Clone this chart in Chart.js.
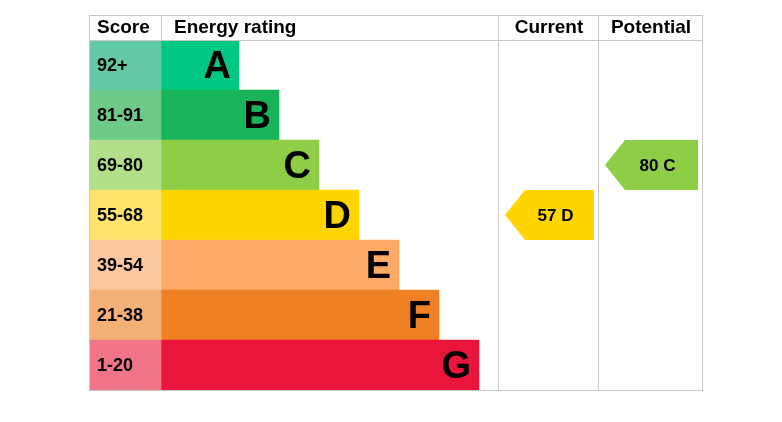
<!DOCTYPE html><html><head><script src="https://cdn.jsdelivr.net/npm/chart.js@4"></script>
<style>body{margin:0;background:#fff}</style></head><body>
<canvas id="c" width="782" height="422"></canvas>
<script>
const bands=['A','B','C','D','E','F','G'];
const scores=['92+','81-91','69-80','55-68','39-54','21-38','1-20'];
const bandEnds=[150,190,230,270,310,350,390];
const bandColors=['#00c781','#19b459','#8dce46','#ffd500','#fcaa65','#ef8023','#e9153b'];
const scoreColors=['#63c9a6','#6fca8a','#b3df8a','#ffe36a','#fdc8a0','#f5b077','#f07589'];
const headers=['Score','Energy rating','Current','Potential'];
const currentValue=57, currentBand='D';
const potentialValue=80, potentialBand='C';
const scoreEnd=72, currentCol=[410,510], potentialCol=[510,614];

const epc={id:'epc',afterDatasetsDraw(ch){
 const c=ch.ctx,a=ch.chartArea,x=ch.scales.x,y=ch.scales.y;
 const X=v=>x.getPixelForValue(v);
 const top=a.top-25;
 c.save();
 c.strokeStyle='#c8c8c8';c.lineWidth=1;
 const ln=(x1,y1,x2,y2)=>{c.beginPath();c.moveTo(x1,y1);c.lineTo(x2,y2);c.stroke();};
 ln(a.left,top+0.5,a.right,top+0.5);ln(a.left,a.top+0.5,a.right,a.top+0.5);ln(a.left,a.bottom+0.5,a.right,a.bottom+0.5);
 [0,scoreEnd].forEach(v=>ln(X(v)+0.5,top,X(v)+0.5,a.top));
 ln(a.left+0.5,a.top,a.left+0.5,a.bottom);
 [currentCol[0],potentialCol[0],potentialCol[1]].forEach(v=>ln(Math.round(X(v))-0.5,top,Math.round(X(v))-0.5,a.bottom));
 c.fillStyle='#000';c.textBaseline='middle';c.font='bold 19px "Liberation Sans",Arial';
 c.textAlign='left';c.fillText(headers[0],X(0)+8,top+13);c.fillText(headers[1],X(scoreEnd)+13,top+13);
 c.textAlign='center';c.fillText(headers[2],X((currentCol[0]+currentCol[1])/2),top+13);c.fillText(headers[3],X((potentialCol[0]+potentialCol[1])/2),top+13);
 bands.forEach((b,i)=>{const yc=y.getPixelForValue(i);
  c.font='bold 18px "Liberation Sans",Arial';c.textAlign='left';c.fillText(scores[i],X(0)+8,yc+1);
  c.font='bold 38px "Liberation Sans",Arial';c.textAlign='right';c.fillText(b,X(bandEnds[i])-8,yc+3);});
 const arrow=(val,band,col)=>{const i=bands.indexOf(band),yc=y.getPixelForValue(i),h=(y.getPixelForValue(1)-y.getPixelForValue(0));
  const tip=X(col[0]+6),body=X(col[0]+26),end=X(col[1]-5),t=yc-h/2,bm=yc+h/2;
  c.fillStyle=bandColors[i];c.beginPath();c.moveTo(tip,yc);c.lineTo(body,t);c.lineTo(end,t);c.lineTo(end,bm);c.lineTo(body,bm);c.closePath();c.fill();
  c.fillStyle='#000';c.font='bold 17px "Liberation Sans",Arial';c.textAlign='center';c.fillText(val+' '+band,(body+end)/2-4,yc+1);};
 arrow(currentValue,currentBand,currentCol);arrow(potentialValue,potentialBand,potentialCol);
 c.restore();}};

new Chart(document.getElementById('c'),{type:'bar',
 data:{labels:bands,datasets:[
  {data:bands.map(()=>[0,scoreEnd]),backgroundColor:scoreColors,grouped:false},
  {data:bandEnds.map(e=>[scoreEnd,e]),backgroundColor:bandColors,grouped:false}]},
 options:{indexAxis:'y',responsive:false,animation:false,barPercentage:1,categoryPercentage:1,
  layout:{padding:{left:89,right:79,top:40,bottom:32}},
  plugins:{legend:{display:false},tooltip:{enabled:false}},
  scales:{x:{display:false,min:0,max:614},y:{display:false}}},
 plugins:[epc]});
</script></body></html>
